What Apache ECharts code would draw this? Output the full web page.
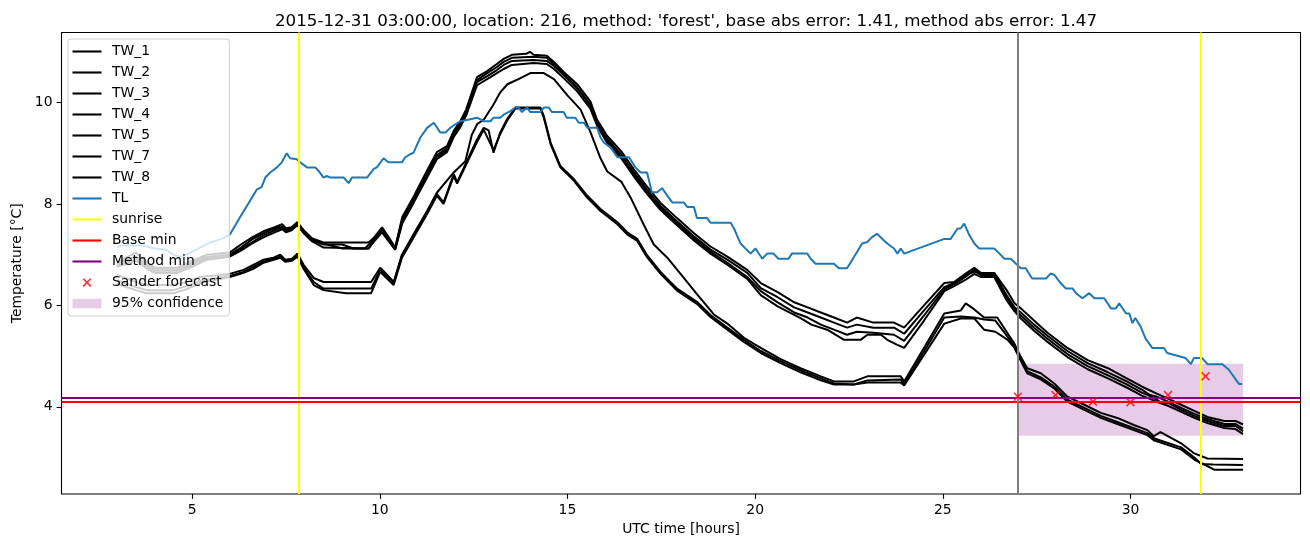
<!DOCTYPE html>
<html><head><meta charset="utf-8">
<script src="https://cdn.jsdelivr.net/npm/echarts@6/dist/echarts.min.js"></script>
<style>html,body{margin:0;padding:0;background:#fff}#c{width:1310px;height:547px}</style>
</head><body><div id="c"></div><script>
// ---- data (hours UTC, temperature °C) ----
const tw1 = [[3.0,6.84],[3.5,7.04],[3.8,6.84],[4.0,6.74],[4.6,6.74],[5.0,6.88],[5.4,7.0],[6.0,7.04],[6.3,7.2],[6.6,7.34],[6.9,7.46],[7.2,7.54],[7.4,7.6],[7.5,7.52],[7.65,7.54],[7.8,7.64],[8.0,7.46],[8.2,7.32],[8.5,7.24],[9.7,7.24],[9.85,7.34],[10.06,7.54],[10.24,7.34],[10.41,7.14],[10.6,7.74],[10.9,8.14],[11.26,8.66],[11.52,9.02],[11.79,9.14],[11.97,9.44],[12.15,9.64],[12.3,9.86],[12.59,10.5],[12.86,10.62],[13.12,10.76],[13.3,10.86],[13.52,10.94],[13.9,10.96],[14.0,11.0],[14.1,10.94],[14.45,10.92],[14.64,10.8],[14.9,10.6],[15.26,10.36],[15.61,10.02],[15.79,9.66],[16.06,9.34],[16.43,9.04],[16.77,8.68],[17.12,8.34],[17.48,8.02],[17.92,7.72],[18.37,7.42],[18.81,7.16],[19.26,6.96],[19.79,6.7],[20.15,6.44],[20.6,6.26],[21.04,6.06],[21.4,5.96],[21.75,5.86],[22.1,5.76],[22.45,5.66],[22.71,5.76],[23.15,5.66],[23.7,5.66],[23.97,5.56],[24.5,6.0],[25.04,6.44],[25.3,6.46],[25.6,6.62],[25.84,6.74],[26.01,6.64],[26.37,6.64],[26.7,6.3],[26.91,6.04],[27.08,5.94],[27.43,5.7],[27.79,5.46],[28.32,5.16],[28.86,4.92],[29.4,4.76],[29.9,4.56],[30.3,4.4],[30.7,4.26],[31.0,4.16],[31.35,4.04],[31.7,3.92],[32.05,3.8],[32.5,3.72],[32.8,3.72],[33.0,3.65]];
const tw2 = [[3.0,6.82],[3.5,6.96],[3.8,6.8],[4.0,6.72],[4.6,6.72],[5.0,6.84],[5.4,6.96],[6.0,7.0],[6.3,7.14],[6.6,7.3],[6.9,7.42],[7.2,7.52],[7.4,7.56],[7.5,7.5],[7.65,7.52],[7.8,7.62],[8.0,7.44],[8.2,7.3],[8.5,7.22],[9.0,7.12],[9.6,7.12],[9.85,7.3],[10.06,7.5],[10.24,7.3],[10.41,7.12],[10.6,7.7],[10.9,8.1],[11.26,8.6],[11.52,8.96],[11.79,9.1],[11.97,9.4],[12.15,9.6],[12.3,9.82],[12.59,10.44],[12.86,10.58],[13.12,10.7],[13.3,10.8],[13.52,10.88],[14.1,10.9],[14.45,10.88],[14.64,10.76],[14.9,10.56],[15.26,10.3],[15.61,9.96],[15.79,9.6],[16.06,9.28],[16.43,8.98],[16.77,8.62],[17.12,8.28],[17.48,7.96],[17.92,7.66],[18.37,7.36],[18.81,7.1],[19.26,6.9],[19.79,6.64],[20.15,6.34],[20.6,6.16],[21.04,5.96],[21.4,5.86],[21.75,5.76],[22.1,5.66],[22.45,5.56],[22.71,5.62],[23.15,5.56],[23.7,5.56],[23.97,5.44],[24.5,5.9],[25.04,6.36],[25.3,6.44],[25.6,6.6],[25.84,6.66],[26.01,6.62],[26.37,6.62],[26.7,6.2],[26.91,5.96],[27.08,5.86],[27.43,5.62],[27.79,5.4],[28.32,5.1],[28.86,4.86],[29.4,4.68],[29.9,4.5],[30.3,4.34],[30.5,4.24],[30.7,4.2],[31.0,4.1],[31.35,3.98],[31.7,3.86],[32.05,3.76],[32.5,3.66],[32.8,3.66],[33.0,3.57]];
const tw3 = [[3.0,6.78],[3.5,6.9],[3.8,6.76],[4.0,6.68],[4.6,6.68],[5.0,6.8],[5.4,6.92],[6.0,6.98],[6.3,7.12],[6.6,7.24],[6.9,7.38],[7.2,7.48],[7.4,7.54],[7.5,7.48],[7.65,7.5],[7.8,7.6],[8.0,7.42],[8.2,7.28],[8.5,7.2],[9.0,7.2],[9.3,7.12],[9.7,7.12],[9.85,7.28],[10.06,7.48],[10.24,7.28],[10.41,7.1],[10.6,7.66],[10.9,8.06],[11.26,8.56],[11.52,8.92],[11.79,9.06],[11.97,9.36],[12.15,9.56],[12.3,9.78],[12.59,10.4],[12.86,10.52],[13.12,10.64],[13.3,10.74],[13.52,10.82],[14.1,10.84],[14.45,10.82],[14.64,10.72],[14.9,10.54],[15.26,10.28],[15.61,9.94],[15.79,9.58],[16.06,9.24],[16.43,8.94],[16.77,8.58],[17.12,8.24],[17.48,7.92],[17.92,7.62],[18.37,7.32],[18.81,7.06],[19.26,6.84],[19.79,6.56],[20.15,6.28],[20.6,6.06],[21.04,5.86],[21.4,5.76],[21.75,5.62],[22.1,5.52],[22.45,5.42],[22.71,5.48],[23.15,5.46],[23.7,5.42],[23.97,5.3],[24.5,5.8],[25.04,6.32],[25.3,6.42],[25.6,6.56],[25.84,6.7],[26.01,6.6],[26.37,6.6],[26.7,6.16],[26.91,5.92],[27.08,5.8],[27.43,5.56],[27.79,5.34],[28.32,5.04],[28.86,4.8],[29.4,4.62],[29.9,4.44],[30.3,4.28],[30.5,4.22],[30.7,4.14],[30.85,4.06],[31.0,4.08],[31.35,3.94],[31.7,3.82],[32.05,3.72],[32.5,3.62],[32.8,3.62],[33.0,3.52]];
const tw4 = [[3.0,6.76],[3.5,6.88],[3.8,6.72],[4.0,6.64],[4.6,6.64],[5.0,6.76],[5.4,6.9],[6.0,6.96],[6.3,7.08],[6.6,7.22],[6.9,7.34],[7.2,7.44],[7.4,7.5],[7.5,7.44],[7.65,7.48],[7.8,7.58],[8.0,7.4],[8.2,7.26],[8.5,7.14],[9.7,7.12],[9.85,7.26],[10.06,7.44],[10.24,7.26],[10.41,7.1],[10.6,7.62],[10.9,8.02],[11.26,8.52],[11.52,8.88],[11.79,9.02],[11.97,9.32],[12.15,9.52],[12.3,9.74],[12.59,10.34],[12.86,10.46],[13.12,10.58],[13.3,10.66],[13.52,10.74],[14.1,10.78],[14.45,10.76],[14.64,10.66],[14.9,10.48],[15.26,10.22],[15.61,9.88],[15.79,9.54],[16.06,9.2],[16.43,8.9],[16.77,8.54],[17.12,8.2],[17.48,7.88],[17.92,7.58],[18.37,7.28],[18.81,7.02],[19.26,6.8],[19.79,6.52],[20.15,6.2],[20.6,5.98],[21.21,5.75],[21.5,5.62],[21.92,5.52],[22.37,5.32],[22.81,5.32],[22.99,5.42],[23.35,5.42],[23.52,5.32],[23.79,5.22],[23.97,5.16],[24.5,5.7],[25.04,6.28],[25.3,6.38],[25.6,6.5],[25.84,6.62],[26.01,6.56],[26.37,6.56],[26.7,6.1],[26.91,5.88],[27.08,5.74],[27.43,5.5],[27.79,5.28],[28.32,4.98],[28.86,4.74],[29.4,4.56],[29.9,4.38],[30.3,4.22],[30.5,4.16],[30.7,4.1],[31.0,4.02],[31.35,3.9],[31.7,3.78],[32.05,3.68],[32.5,3.58],[32.8,3.56],[33.0,3.46]];
const tw5 = [[3.0,6.6],[3.5,6.46],[3.8,6.4],[4.5,6.4],[4.86,6.46],[5.2,6.56],[6.0,6.62],[6.37,6.7],[6.63,6.8],[6.9,6.9],[7.17,6.94],[7.35,7.0],[7.48,6.9],[7.66,6.92],[7.81,7.02],[7.97,6.8],[8.24,6.54],[8.5,6.46],[9.77,6.46],[10.01,6.74],[10.15,6.64],[10.37,6.46],[10.59,7.0],[10.9,7.4],[11.26,7.86],[11.52,8.22],[11.97,8.62],[12.28,8.84],[12.45,9.36],[12.6,9.58],[12.77,9.66],[13.03,9.96],[13.21,10.2],[13.4,10.36],[13.75,10.48],[14.01,10.58],[14.37,10.58],[14.64,10.46],[15.0,10.14],[15.35,9.86],[15.61,9.42],[15.88,8.9],[16.06,8.64],[16.43,8.44],[16.7,8.1],[17.04,7.58],[17.3,7.2],[17.66,6.94],[18.1,6.54],[18.45,6.22],[18.9,5.82],[19.26,5.64],[19.7,5.36],[20.15,5.16],[20.68,4.94],[21.21,4.76],[21.75,4.6],[22.1,4.5],[22.63,4.5],[22.99,4.6],[23.88,4.6],[23.97,4.5],[25.04,5.84],[25.48,5.9],[25.61,6.04],[25.84,5.92],[26.1,5.76],[26.45,5.76],[26.91,5.24],[27.08,4.98],[27.25,4.76],[27.61,4.66],[27.97,4.46],[28.32,4.2],[28.77,4.04],[29.21,3.88],[29.65,3.78],[30.09,3.64],[30.45,3.54],[30.62,3.42],[30.8,3.5],[31.35,3.28],[31.7,3.08],[32.05,2.98],[33.0,2.97]];
const tw7 = [[3.0,6.5],[3.5,6.36],[3.8,6.3],[4.5,6.3],[4.86,6.38],[5.2,6.48],[6.0,6.58],[6.37,6.66],[6.63,6.76],[6.9,6.86],[7.17,6.92],[7.35,6.96],[7.48,6.88],[7.66,6.9],[7.81,6.98],[7.97,6.76],[8.24,6.46],[8.5,6.33],[9.77,6.33],[10.01,6.7],[10.15,6.6],[10.37,6.43],[10.59,6.98],[10.9,7.38],[11.26,7.84],[11.52,8.2],[11.7,8.03],[11.97,8.59],[12.06,8.43],[12.28,8.78],[12.59,9.27],[12.77,9.5],[12.9,9.45],[13.03,9.01],[13.21,9.41],[13.39,9.67],[13.61,9.9],[14.28,9.9],[14.37,9.73],[14.55,9.21],[14.81,8.75],[15.17,8.49],[15.53,8.16],[15.88,7.9],[16.33,7.64],[16.59,7.44],[16.86,7.31],[17.12,6.99],[17.48,6.66],[17.92,6.33],[18.45,6.07],[18.81,5.81],[19.17,5.61],[19.7,5.32],[20.15,5.1],[20.68,4.9],[21.21,4.72],[21.75,4.56],[22.1,4.46],[22.63,4.44],[22.99,4.52],[23.88,4.54],[23.97,4.44],[25.04,5.76],[25.48,5.78],[25.84,5.76],[26.1,5.72],[26.4,5.7],[26.91,5.2],[27.08,4.94],[27.25,4.7],[27.61,4.58],[27.97,4.4],[28.32,4.14],[28.77,3.98],[29.21,3.82],[29.65,3.7],[30.09,3.58],[30.45,3.48],[30.62,3.38],[31.35,3.2],[31.7,3.0],[31.88,2.87],[32.2,2.86],[33.0,2.85]];
const tw8 = [[3.0,6.42],[3.5,6.3],[3.8,6.24],[4.5,6.24],[4.86,6.32],[5.2,6.44],[6.0,6.56],[6.37,6.64],[6.63,6.72],[6.9,6.84],[7.17,6.9],[7.35,6.94],[7.48,6.86],[7.66,6.88],[7.81,6.96],[7.97,6.72],[8.24,6.4],[8.5,6.3],[9.1,6.24],[9.77,6.24],[10.01,6.66],[10.15,6.56],[10.37,6.4],[10.59,6.94],[10.9,7.34],[11.26,7.8],[11.52,8.16],[11.7,8.0],[11.97,8.55],[12.06,8.4],[12.28,8.74],[12.59,9.22],[12.77,9.46],[13.03,9.06],[13.21,9.38],[13.39,9.64],[13.61,9.88],[14.28,9.88],[14.37,9.7],[14.55,9.18],[14.81,8.72],[15.17,8.46],[15.53,8.12],[15.88,7.86],[16.33,7.6],[16.59,7.4],[16.86,7.27],[17.12,6.95],[17.48,6.62],[17.92,6.29],[18.45,6.03],[18.81,5.77],[19.17,5.57],[19.7,5.28],[20.15,5.06],[20.68,4.86],[21.21,4.68],[21.75,4.52],[22.1,4.44],[22.63,4.44],[22.99,4.48],[23.88,4.48],[23.97,4.42],[25.04,5.64],[25.48,5.74],[25.84,5.74],[26.1,5.52],[26.4,5.48],[26.73,5.32],[26.91,5.16],[27.08,4.9],[27.25,4.66],[27.61,4.54],[27.97,4.36],[28.32,4.1],[28.77,3.94],[29.21,3.78],[29.65,3.66],[30.09,3.54],[30.45,3.44],[30.62,3.34],[31.35,3.16],[31.7,2.96],[32.23,2.76],[33.0,2.76]];
const tl = [[3.0,7.14],[3.12,7.18],[3.7,7.18],[4.0,7.12],[4.3,7.1],[4.5,7.0],[4.68,6.95],[4.9,7.02],[5.21,7.14],[5.48,7.24],[5.75,7.3],[6.01,7.4],[6.28,7.74],[6.55,8.07],[6.72,8.28],[6.85,8.33],[6.95,8.52],[7.08,8.62],[7.26,8.72],[7.39,8.82],[7.52,9.0],[7.61,8.9],[7.79,8.88],[7.88,8.82],[8.06,8.72],[8.28,8.72],[8.37,8.65],[8.5,8.52],[8.59,8.55],[8.68,8.52],[9.04,8.52],[9.17,8.41],[9.26,8.52],[9.66,8.52],[9.84,8.69],[9.92,8.72],[10.1,8.9],[10.23,8.82],[10.59,8.82],[10.68,8.92],[10.81,8.98],[10.9,9.01],[11.08,9.31],[11.26,9.5],[11.44,9.6],[11.61,9.41],[11.75,9.41],[11.88,9.5],[12.01,9.57],[12.15,9.63],[12.41,9.67],[12.59,9.7],[12.77,9.63],[12.95,9.63],[13.03,9.7],[13.21,9.7],[13.3,9.76],[13.48,9.83],[13.61,9.9],[13.7,9.9],[13.79,9.81],[13.92,9.9],[14.01,9.81],[14.28,9.81],[14.37,9.9],[14.5,9.9],[14.59,9.81],[14.9,9.81],[14.98,9.7],[15.21,9.7],[15.3,9.6],[15.44,9.6],[15.53,9.5],[15.79,9.5],[15.88,9.31],[15.97,9.21],[16.15,9.11],[16.33,8.92],[16.64,8.92],[16.81,8.72],[16.95,8.62],[17.12,8.62],[17.25,8.23],[17.39,8.23],[17.52,8.31],[17.79,8.03],[18.1,8.03],[18.19,7.94],[18.37,7.94],[18.45,7.72],[18.72,7.72],[18.81,7.63],[19.35,7.63],[19.44,7.51],[19.61,7.22],[19.88,7.02],[20.01,7.12],[20.19,6.92],[20.32,7.02],[20.49,7.02],[20.62,6.92],[20.89,6.92],[20.98,7.02],[21.39,7.02],[21.48,6.92],[21.61,6.82],[22.1,6.82],[22.23,6.73],[22.45,6.73],[22.63,6.95],[22.85,7.22],[22.99,7.25],[23.12,7.35],[23.25,7.41],[23.39,7.31],[23.52,7.22],[23.7,7.12],[23.79,7.02],[23.88,7.12],[23.97,7.02],[25.04,7.31],[25.21,7.31],[25.39,7.51],[25.48,7.52],[25.57,7.61],[25.71,7.38],[25.84,7.22],[25.97,7.12],[26.37,7.12],[26.51,7.02],[26.64,6.92],[26.81,6.92],[26.95,6.82],[27.08,6.73],[27.21,6.73],[27.38,6.53],[27.75,6.53],[27.88,6.63],[27.97,6.6],[28.15,6.43],[28.28,6.33],[28.46,6.33],[28.55,6.24],[28.72,6.14],[28.9,6.24],[29.04,6.14],[29.3,6.14],[29.48,5.94],[29.61,5.94],[29.7,6.04],[29.88,5.84],[29.97,5.84],[30.05,5.65],[30.13,5.75],[30.27,5.58],[30.4,5.35],[30.58,5.16],[30.89,5.16],[30.98,5.06],[31.47,4.96],[31.61,4.84],[31.69,4.96],[31.91,4.96],[32.05,4.84],[32.45,4.84],[32.62,4.73],[32.89,4.45],[32.98,4.45]];
const sunriseHours = [7.83, 31.88];
const forecastStartHour = 27.0;
const baseMin = 4.10;
const methodMin = 4.18;
const forecastHours = [27, 28, 29, 30, 31, 32];
const forecastTemps = [4.20, 4.23, 4.10, 4.09, 4.23, 4.60];
const confHours = [27, 33];
const confTemps = [3.43, 4.85];
const xTicks = [5, 10, 15, 20, 25, 30];
const yTicks = [4, 6, 8, 10];
const twNames = ['TW_1','TW_2','TW_3','TW_4','TW_5','TW_7','TW_8'];
const twData = [tw1, tw2, tw3, tw4, tw5, tw7, tw8];
const titleText = "2015-12-31 03:00:00, location: 216, method: 'forest', base abs error: 1.41, method abs error: 1.47";

// ---- chart ----
const X_MIN = 1.52, X_MAX = 34.53, Y_MIN = 2.28, Y_MAX = 11.38;
const FONT = 'DejaVu Sans';
const xMark = 'path://M0,1.3L1.3,0L5,3.7L8.7,0L10,1.3L6.3,5L10,8.7L8.7,10L5,6.3L1.3,10L0,8.7L3.7,5Z';
const xMarkLegend = 'path://M-3,-3M13,13M0,1.3L1.3,0L5,3.7L8.7,0L10,1.3L6.3,5L10,8.7L8.7,10L5,6.3L1.3,10L0,8.7L3.7,5Z';
const lineIcon = 'path://M0,0h29v2.1h-29z';

const series = [];
twNames.forEach((n, i) => {
  series.push({name: n, type: 'line', data: twData[i], symbol: 'none', showSymbol: false,
    lineStyle: {color: '#000000', width: 2}, itemStyle: {color: '#000000'}, z: 2});
});
series.push({name: 'TL', type: 'line', data: tl, symbol: 'none', showSymbol: false,
  lineStyle: {color: '#1f77b4', width: 2}, itemStyle: {color: '#1f77b4'}, z: 3});
series.push({name: 'sunrise', type: 'line', data: [], symbol: 'none',
  lineStyle: {color: '#ffff00', width: 2}, itemStyle: {color: '#ffff00'}, z: 4,
  markLine: {symbol: ['none','none'], silent: true, label: {show: false}, animation: false,
    lineStyle: {color: '#ffff00', width: 2, type: 'solid'},
    data: sunriseHours.map(h => ({xAxis: h}))}});
series.push({name: 'Base min', type: 'line', data: [], symbol: 'none',
  lineStyle: {color: '#ff0000', width: 2}, itemStyle: {color: '#ff0000'}, z: 4,
  markLine: {symbol: ['none','none'], silent: true, label: {show: false}, animation: false,
    lineStyle: {color: '#ff0000', width: 2, type: 'solid'}, data: [{yAxis: baseMin}]}});
series.push({name: 'Method min', type: 'line', data: [], symbol: 'none',
  lineStyle: {color: '#800080', width: 2}, itemStyle: {color: '#800080'}, z: 4,
  markLine: {symbol: ['none','none'], silent: true, label: {show: false}, animation: false,
    lineStyle: {color: '#800080', width: 2, type: 'solid'}, data: [{yAxis: methodMin}]}});
series.push({name: 'now', type: 'line', data: [], symbol: 'none', z: 4,
  markLine: {symbol: ['none','none'], silent: true, label: {show: false}, animation: false,
    lineStyle: {color: '#808080', width: 2, type: 'solid'}, data: [{xAxis: forecastStartHour}]}});
series.push({name: 'Sander forecast', type: 'scatter', data: forecastHours.map((h, i) => [h, forecastTemps[i]]),
  symbol: xMark, symbolSize: 9, itemStyle: {color: '#ff0000'}, z: 6});
series.push({name: '95% confidence', type: 'line', data: [], symbol: 'none',
  itemStyle: {color: 'rgba(128,0,128,0.2)'}, lineStyle: {color: 'rgba(128,0,128,0.2)'}, z: 1,
  markArea: {silent: true, animation: false, itemStyle: {color: 'rgba(128,0,128,0.2)'},
    data: [[{coord: [confHours[0], confTemps[0]]}, {coord: [confHours[1], confTemps[1]]}]]}});

const lineColors = {'TL': '#1f77b4', 'sunrise': '#ffff00', 'Base min': '#ff0000', 'Method min': '#800080'};
const legendData = twNames.concat(['TL','sunrise','Base min','Method min']).map(n => ({
  name: n, icon: lineIcon, itemStyle: {color: lineColors[n] || '#000000', borderWidth: 0}}));
legendData.push({name: 'Sander forecast', icon: xMarkLegend, itemStyle: {color: '#ff0000', borderWidth: 0}});
legendData.push({name: '95% confidence', icon: 'path://M0,0h29v9.5h-29z', itemStyle: {color: 'rgba(128,0,128,0.2)', borderWidth: 0}});

const option = {
  animation: false,
  backgroundColor: '#ffffff',
  textStyle: {fontFamily: FONT},
  title: {text: titleText, left: 681, top: 8, textAlign: 'center',
    textStyle: {fontFamily: FONT, fontSize: 16.7, fontWeight: 'normal', color: '#000'}},
  grid: {left: 61.5, right: 9.5, top: 32.5, bottom: 53, show: true, borderColor: '#000', borderWidth: 1.1, backgroundColor: 'transparent'},
  legend: {orient: 'vertical', left: 68, top: 39, padding: [5.5, 6, 5.5, 4.5],
    backgroundColor: 'rgba(255,255,255,0.8)', borderColor: '#cccccc', borderWidth: 1, borderRadius: 3,
    itemWidth: 29, itemHeight: 14, itemGap: 7, selectedMode: false,
    textStyle: {fontFamily: FONT, fontSize: 13.9, color: '#000', lineHeight: 14, padding: [0,0,0,5.5]},
    data: legendData},
  xAxis: {type: 'value', min: X_MIN, max: X_MAX,
    name: 'UTC time [hours]', nameLocation: 'middle', nameGap: 28,
    nameTextStyle: {fontFamily: FONT, fontSize: 13.9, color: '#000'},
    axisLine: {show: false}, splitLine: {show: false},
    axisTick: {show: true, inside: false, length: 4.9, lineStyle: {color: '#000', width: 1.1}, customValues: xTicks},
    axisLabel: {show: true, margin: 9, fontFamily: FONT, fontSize: 13.9, color: '#000', customValues: xTicks}},
  yAxis: {type: 'value', min: Y_MIN, max: Y_MAX,
    name: 'Temperature [°C]', nameLocation: 'middle', nameGap: 36,
    nameTextStyle: {fontFamily: FONT, fontSize: 13.9, color: '#000'},
    axisLine: {show: false}, splitLine: {show: false},
    axisTick: {show: true, inside: false, length: 4.9, lineStyle: {color: '#000', width: 1.1}, customValues: yTicks},
    axisLabel: {show: true, margin: 9, fontFamily: FONT, fontSize: 13.9, color: '#000', customValues: yTicks}},
  series: series
};
const chart = echarts.init(document.getElementById('c'), null, {renderer: 'canvas'});
chart.setOption(option);
</script></body></html>
